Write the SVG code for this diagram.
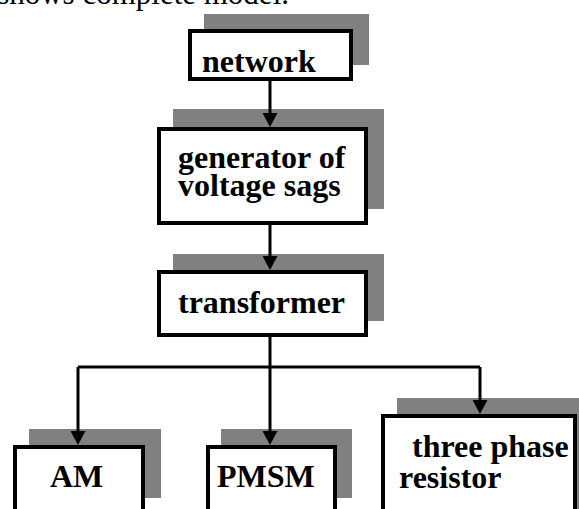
<svg xmlns="http://www.w3.org/2000/svg" width="579" height="509" viewBox="0 0 579 509">
<defs>
<style>
.shadow{fill:#808080;}
.box{fill:#ffffff;stroke:#000000;stroke-width:4;}
.lbl{font-family:"Liberation Serif","Times New Roman",serif;font-weight:bold;font-size:32px;fill:#000000;}
.body{font-family:"Liberation Serif","Times New Roman",serif;font-size:31px;fill:#000000;}
.conn{fill:none;stroke:#000000;stroke-width:3;}
</style>
<marker id="arr" viewBox="0 0 14 15" refX="6" refY="7.5" markerWidth="14" markerHeight="15" markerUnits="userSpaceOnUse" orient="auto">
<path d="M0,0 L14,7.5 L0,15 z" fill="#000000"/>
</marker>
</defs>
<rect width="579" height="509" fill="#ffffff"/>
<text class="body" x="289" y="4" text-anchor="end">shows complete model.</text>

<g id="network">
<rect class="shadow" x="204" y="14" width="165" height="51"/>
<rect class="box" x="190" y="31" width="161" height="48"/>
<text class="lbl" x="202" y="72">network</text>
</g>

<g id="generator">
<rect class="shadow" x="173" y="109" width="211" height="100"/>
<rect class="box" x="159" y="129" width="207" height="94"/>
<text class="lbl" x="178" y="168">generator of</text>
<text class="lbl" x="178" y="196">voltage sags</text>
</g>

<g id="transformer">
<rect class="shadow" x="173" y="254" width="211" height="67"/>
<rect class="box" x="159" y="272" width="207" height="63"/>
<text class="lbl" x="178" y="313">transformer</text>
</g>

<g id="am">
<rect class="shadow" x="29" y="429" width="132" height="69"/>
<rect class="box" x="15" y="447" width="128" height="90"/>
<text class="lbl" x="50" y="487">AM</text>
</g>

<g id="pmsm">
<rect class="shadow" x="221" y="429" width="131" height="69"/>
<rect class="box" x="208" y="447" width="127" height="90"/>
<text class="lbl" x="217" y="487">PMSM</text>
</g>

<g id="resistor">
<rect class="shadow" x="397" y="398" width="190" height="130"/>
<rect class="box" x="383" y="416" width="192" height="120"/>
<text class="lbl" x="412" y="457">three phase</text>
<text class="lbl" x="399" y="488">resistor</text>
</g>

<g id="connectors">
<line class="conn" x1="270" y1="81" x2="270" y2="119" marker-end="url(#arr)"/>
<line class="conn" x1="270" y1="225" x2="270" y2="262" marker-end="url(#arr)"/>
<polyline class="conn" points="270,337 270,367"/>
<polyline class="conn" points="78,367 480,367"/>
<line class="conn" x1="78" y1="367" x2="78" y2="437" marker-end="url(#arr)"/>
<line class="conn" x1="270" y1="367" x2="270" y2="437" marker-end="url(#arr)"/>
<line class="conn" x1="480" y1="367" x2="480" y2="406" marker-end="url(#arr)"/>
</g>
</svg>
